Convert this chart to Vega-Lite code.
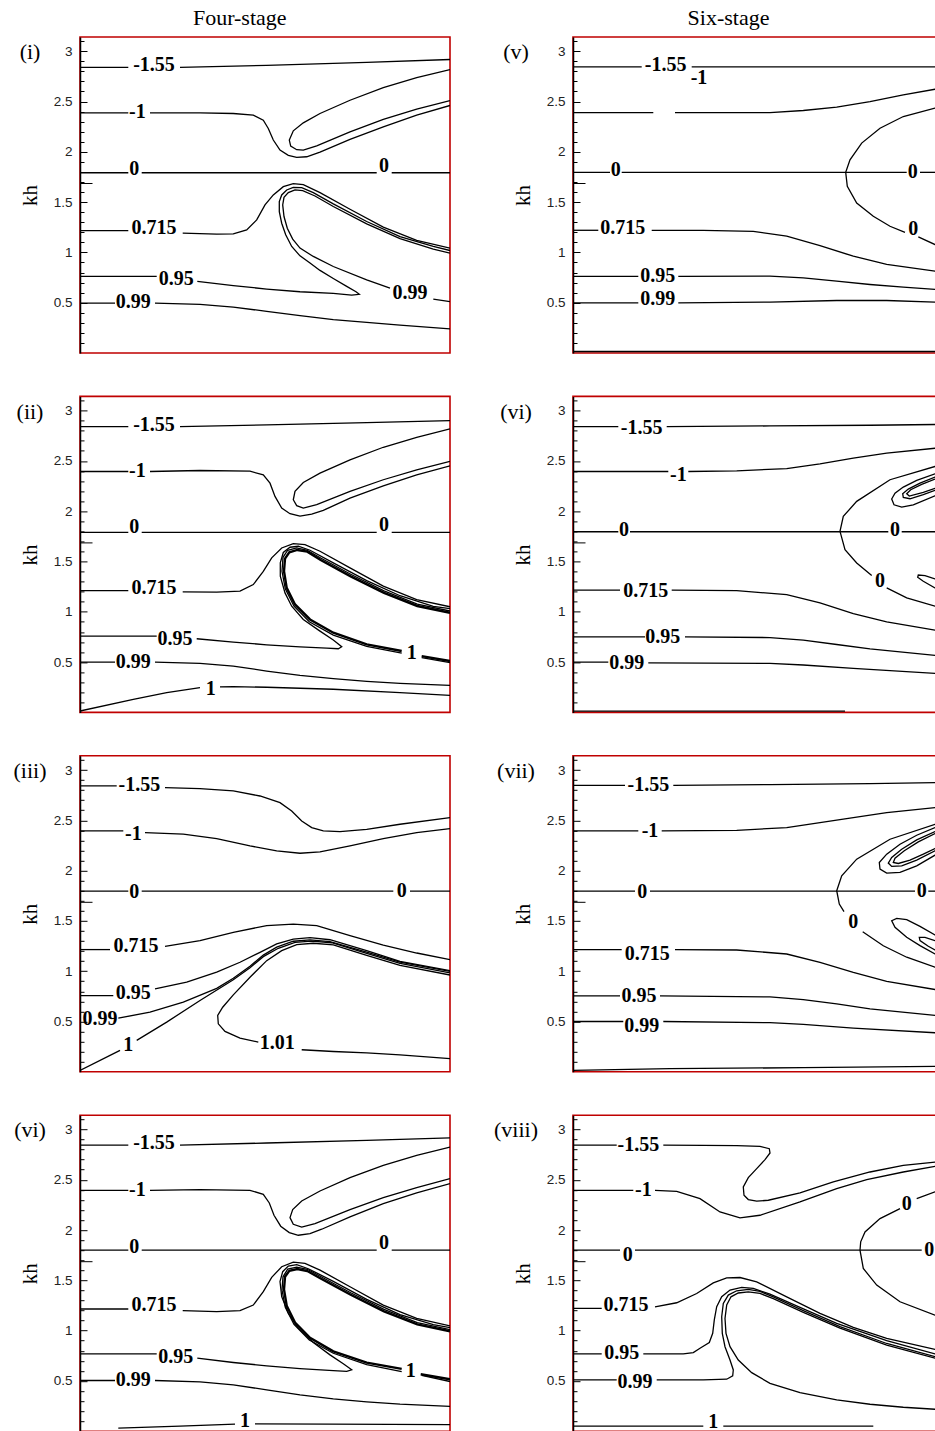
{
"$schema":"https://vega.github.io/schema/vega-lite/v6.json",
"padding":{"left":12,"top":7,"right":0,"bottom":0},
"config":{"view":{"stroke":"#c00000","strokeWidth":1.6}},
"datasets":{
"L1":[
{"s":"a1","x":0,"y":2.84},{"s":"a1","x":0.483,"y":2.84},
{"s":"a2","x":1.0,"y":2.84},{"s":"a2","x":1.867,"y":2.86},{"s":"a2","x":2.867,"y":2.89},{"s":"a2","x":3.7,"y":2.918},
{"s":"b1","x":0,"y":2.388},{"s":"b1","x":0.483,"y":2.388},
{"s":"b2","x":0.7,"y":2.388},{"s":"b2","x":1.2,"y":2.388},{"s":"b2","x":1.533,"y":2.381},{"s":"b2","x":1.733,"y":2.364},{"s":"b2","x":1.833,"y":2.315},{"s":"b2","x":1.883,"y":2.232},{"s":"b2","x":1.933,"y":2.117},{"s":"b2","x":2.0,"y":2.018},{"s":"b2","x":2.083,"y":1.965},{"s":"b2","x":2.167,"y":1.945},{"s":"b2","x":2.267,"y":1.951},{"s":"b2","x":2.4,"y":1.998},{"s":"b2","x":2.7,"y":2.124},{"s":"b2","x":3.033,"y":2.249},{"s":"b2","x":3.367,"y":2.365},{"s":"b2","x":3.7,"y":2.461},
{"s":"c","x":3.7,"y":2.817},{"s":"c","x":3.367,"y":2.738},{"s":"c","x":3.033,"y":2.639},{"s":"c","x":2.7,"y":2.513},{"s":"c","x":2.4,"y":2.381},{"s":"c","x":2.233,"y":2.288},{"s":"c","x":2.133,"y":2.209},{"s":"c","x":2.093,"y":2.117},{"s":"c","x":2.107,"y":2.057},{"s":"c","x":2.167,"y":2.021},{"s":"c","x":2.233,"y":2.017},{"s":"c","x":2.367,"y":2.06},{"s":"c","x":2.7,"y":2.199},{"s":"c","x":3.033,"y":2.322},{"s":"c","x":3.367,"y":2.424},{"s":"c","x":3.7,"y":2.51},
{"s":"d1","x":0,"y":1.792},{"s":"d1","x":0.483,"y":1.792},
{"s":"d2","x":0.617,"y":1.792},{"s":"d2","x":2.967,"y":1.792},
{"s":"d3","x":3.117,"y":1.792},{"s":"d3","x":3.7,"y":1.792},
{"s":"e1","x":0,"y":1.217},{"s":"e1","x":0.483,"y":1.217},
{"s":"e2","x":1.027,"y":1.191},{"s":"e2","x":1.367,"y":1.181},{"s":"e2","x":1.533,"y":1.184},{"s":"e2","x":1.667,"y":1.224},{"s":"e2","x":1.767,"y":1.323},{"s":"e2","x":1.85,"y":1.472},{"s":"e2","x":1.933,"y":1.572},{"s":"e2","x":2.033,"y":1.654},{"s":"e2","x":2.133,"y":1.684},{"s":"e2","x":2.233,"y":1.674},{"s":"e2","x":2.4,"y":1.595},{"s":"e2","x":2.7,"y":1.429},{"s":"e2","x":3.033,"y":1.251},{"s":"e2","x":3.367,"y":1.119},{"s":"e2","x":3.7,"y":1.043},
{"s":"f1","x":0,"y":0.761},{"s":"f1","x":0.767,"y":0.761},
{"s":"f2","x":1.173,"y":0.712},{"s":"f2","x":1.533,"y":0.669},{"s":"f2","x":1.867,"y":0.636},{"s":"f2","x":2.2,"y":0.609},{"s":"f2","x":2.533,"y":0.593},{"s":"f2","x":2.717,"y":0.576},{"s":"f2","x":2.793,"y":0.583},{"s":"f2","x":2.76,"y":0.609},{"s":"f2","x":2.667,"y":0.662},{"s":"f2","x":2.533,"y":0.741},{"s":"f2","x":2.4,"y":0.821},{"s":"f2","x":2.3,"y":0.894},{"s":"f2","x":2.2,"y":0.966},{"s":"f2","x":2.117,"y":1.059},{"s":"f2","x":2.057,"y":1.175},{"s":"f2","x":2.017,"y":1.29},{"s":"f2","x":1.993,"y":1.406},{"s":"f2","x":1.993,"y":1.505},{"s":"f2","x":2.017,"y":1.571},{"s":"f2","x":2.067,"y":1.621},{"s":"f2","x":2.133,"y":1.647},{"s":"f2","x":2.217,"y":1.644},{"s":"f2","x":2.333,"y":1.594},{"s":"f2","x":2.533,"y":1.482},{"s":"f2","x":2.867,"y":1.307},{"s":"f2","x":3.2,"y":1.158},{"s":"f2","x":3.533,"y":1.059},{"s":"f2","x":3.7,"y":1.019},
{"s":"g1","x":3.7,"y":0.51},{"s":"g1","x":3.533,"y":0.536},
{"s":"g2","x":3.1,"y":0.645},{"s":"g2","x":2.867,"y":0.728},{"s":"g2","x":2.533,"y":0.86},{"s":"g2","x":2.333,"y":0.96},{"s":"g2","x":2.2,"y":1.043},{"s":"g2","x":2.127,"y":1.132},{"s":"g2","x":2.073,"y":1.241},{"s":"g2","x":2.04,"y":1.357},{"s":"g2","x":2.027,"y":1.472},{"s":"g2","x":2.04,"y":1.548},{"s":"g2","x":2.083,"y":1.594},{"s":"g2","x":2.15,"y":1.621},{"s":"g2","x":2.227,"y":1.614},{"s":"g2","x":2.35,"y":1.561},{"s":"g2","x":2.533,"y":1.456},{"s":"g2","x":2.867,"y":1.283},{"s":"g2","x":3.2,"y":1.138},{"s":"g2","x":3.533,"y":1.032},{"s":"g2","x":3.7,"y":0.993},
{"s":"h1","x":0,"y":0.496},{"s":"h1","x":0.35,"y":0.496},
{"s":"h2","x":0.75,"y":0.496},{"s":"h2","x":1.2,"y":0.483},{"s":"h2","x":1.533,"y":0.457},{"s":"h2","x":1.867,"y":0.414},{"s":"h2","x":2.2,"y":0.371},{"s":"h2","x":2.533,"y":0.331},{"s":"h2","x":2.867,"y":0.305},{"s":"h2","x":3.2,"y":0.278},{"s":"h2","x":3.7,"y":0.239}
],
"T1":[
{"t":"-1.55","x":0.74,"y":2.86},{"t":"-1","x":0.573,"y":2.4},{"t":"0","x":0.543,"y":1.83},{"t":"0","x":3.04,"y":1.86},{"t":"0.715","x":0.74,"y":1.247},{"t":"0.95","x":0.963,"y":0.731},{"t":"0.99","x":0.533,"y":0.503},{"t":"0.99","x":3.3,"y":0.596}
],
"L2":[
{"s":"a1","x":0,"y":2.842},{"s":"a1","x":0.483,"y":2.842},
{"s":"a2","x":1.0,"y":2.842},{"s":"a2","x":1.867,"y":2.858},{"s":"a2","x":2.867,"y":2.881},{"s":"a2","x":3.7,"y":2.901},
{"s":"c","x":3.7,"y":2.818},{"s":"c","x":3.367,"y":2.735},{"s":"c","x":3.033,"y":2.636},{"s":"c","x":2.7,"y":2.511},{"s":"c","x":2.4,"y":2.379},{"s":"c","x":2.233,"y":2.286},{"s":"c","x":2.15,"y":2.197},{"s":"c","x":2.133,"y":2.114},{"s":"c","x":2.167,"y":2.055},{"s":"c","x":2.233,"y":2.032},{"s":"c","x":2.367,"y":2.065},{"s":"c","x":2.7,"y":2.197},{"s":"c","x":3.033,"y":2.313},{"s":"c","x":3.367,"y":2.412},{"s":"c","x":3.7,"y":2.495},
{"s":"b1","x":0,"y":2.395},{"s":"b1","x":0.483,"y":2.395},
{"s":"b2","x":0.7,"y":2.395},{"s":"b2","x":1.2,"y":2.405},{"s":"b2","x":1.7,"y":2.398},{"s":"b2","x":1.833,"y":2.361},{"s":"b2","x":1.9,"y":2.279},{"s":"b2","x":1.95,"y":2.147},{"s":"b2","x":2.017,"y":2.031},{"s":"b2","x":2.1,"y":1.975},{"s":"b2","x":2.2,"y":1.952},{"s":"b2","x":2.317,"y":1.972},{"s":"b2","x":2.433,"y":2.008},{"s":"b2","x":2.7,"y":2.131},{"s":"b2","x":3.033,"y":2.253},{"s":"b2","x":3.367,"y":2.362},{"s":"b2","x":3.7,"y":2.452},
{"s":"d1","x":0,"y":1.789},{"s":"d1","x":0.483,"y":1.789},
{"s":"d2","x":0.617,"y":1.789},{"s":"d2","x":2.967,"y":1.789},
{"s":"d3","x":3.117,"y":1.789},{"s":"d3","x":3.7,"y":1.789},
{"s":"e1","x":0,"y":1.211},{"s":"e1","x":0.483,"y":1.211},
{"s":"e2","x":1.027,"y":1.198},{"s":"e2","x":1.367,"y":1.195},{"s":"e2","x":1.6,"y":1.205},{"s":"e2","x":1.733,"y":1.271},{"s":"e2","x":1.833,"y":1.403},{"s":"e2","x":1.917,"y":1.536},{"s":"e2","x":2.017,"y":1.635},{"s":"e2","x":2.133,"y":1.678},{"s":"e2","x":2.25,"y":1.668},{"s":"e2","x":2.4,"y":1.602},{"s":"e2","x":2.7,"y":1.437},{"s":"e2","x":3.033,"y":1.255},{"s":"e2","x":3.367,"y":1.122},{"s":"e2","x":3.7,"y":1.05},
{"s":"f1","x":0,"y":0.758},{"s":"f1","x":0.767,"y":0.758},
{"s":"f2","x":1.167,"y":0.732},{"s":"f2","x":1.533,"y":0.699},{"s":"f2","x":1.867,"y":0.672},{"s":"f2","x":2.2,"y":0.652},{"s":"f2","x":2.467,"y":0.639},{"s":"f2","x":2.583,"y":0.633},{"s":"f2","x":2.617,"y":0.653},{"s":"f2","x":2.533,"y":0.719},{"s":"f2","x":2.4,"y":0.808},{"s":"f2","x":2.233,"y":0.924},{"s":"f2","x":2.117,"y":1.056},{"s":"f2","x":2.05,"y":1.188},{"s":"f2","x":2.003,"y":1.354},{"s":"f2","x":2.003,"y":1.486},{"s":"f2","x":2.033,"y":1.59},{"s":"f2","x":2.1,"y":1.642},{"s":"f2","x":2.183,"y":1.652},{"s":"f2","x":2.3,"y":1.612},{"s":"f2","x":2.533,"y":1.487},{"s":"f2","x":2.867,"y":1.31},{"s":"f2","x":3.2,"y":1.16},{"s":"f2","x":3.533,"y":1.055},{"s":"f2","x":3.7,"y":1.032},
{"s":"g1","x":3.7,"y":0.494},{"s":"g1","x":3.417,"y":0.544},
{"s":"g2","x":3.217,"y":0.59},{"s":"g2","x":2.867,"y":0.656},{"s":"g2","x":2.533,"y":0.769},{"s":"g2","x":2.293,"y":0.901},{"s":"g2","x":2.14,"y":1.056},{"s":"g2","x":2.053,"y":1.228},{"s":"g2","x":2.02,"y":1.403},{"s":"g2","x":2.03,"y":1.542},{"s":"g2","x":2.077,"y":1.612},{"s":"g2","x":2.167,"y":1.635},{"s":"g2","x":2.273,"y":1.612},{"s":"g2","x":2.407,"y":1.535},{"s":"g2","x":2.707,"y":1.373},{"s":"g2","x":3.04,"y":1.208},{"s":"g2","x":3.373,"y":1.076},{"s":"g2","x":3.7,"y":1.008},
{"s":"h1","x":0,"y":0.5},{"s":"h1","x":0.35,"y":0.5},
{"s":"h2","x":0.75,"y":0.5},{"s":"h2","x":1.2,"y":0.487},{"s":"h2","x":1.533,"y":0.461},{"s":"h2","x":1.867,"y":0.411},{"s":"h2","x":2.2,"y":0.368},{"s":"h2","x":2.533,"y":0.335},{"s":"h2","x":2.867,"y":0.309},{"s":"h2","x":3.2,"y":0.289},{"s":"h2","x":3.7,"y":0.269},
{"s":"i1","x":0,"y":0.014},{"s":"i1","x":0.533,"y":0.13},{"s":"i1","x":0.867,"y":0.196},{"s":"i1","x":1.2,"y":0.246},
{"s":"i2","x":1.4,"y":0.253},{"s":"i2","x":1.533,"y":0.256},{"s":"i2","x":1.867,"y":0.25},{"s":"i2","x":2.533,"y":0.23},{"s":"i2","x":3.2,"y":0.196},{"s":"i2","x":3.7,"y":0.17}
],
"K2":[
{"s":"t1","x":3.7,"y":0.511},{"s":"t1","x":3.417,"y":0.56},
{"s":"t2","x":3.217,"y":0.61},{"s":"t2","x":2.867,"y":0.676},{"s":"t2","x":2.533,"y":0.792},{"s":"t2","x":2.3,"y":0.924},{"s":"t2","x":2.15,"y":1.073},{"s":"t2","x":2.067,"y":1.238},{"s":"t2","x":2.04,"y":1.403},{"s":"t2","x":2.05,"y":1.529},{"s":"t2","x":2.093,"y":1.592},{"s":"t2","x":2.173,"y":1.615},{"s":"t2","x":2.273,"y":1.598},{"s":"t2","x":2.407,"y":1.515},{"s":"t2","x":2.707,"y":1.352},{"s":"t2","x":3.04,"y":1.188},{"s":"t2","x":3.373,"y":1.058},{"s":"t2","x":3.7,"y":0.99}
],
"T2":[
{"t":"-1.55","x":0.74,"y":2.858},{"t":"-1","x":0.573,"y":2.402},{"t":"0","x":0.543,"y":1.84},{"t":"0","x":3.04,"y":1.866},{"t":"0.715","x":0.74,"y":1.238},{"t":"0.95","x":0.95,"y":0.732},{"t":"0.99","x":0.533,"y":0.5},{"t":"1","x":3.317,"y":0.593},{"t":"1","x":1.307,"y":0.23}
],
"L3":[
{"s":"a1","x":0,"y":2.842},{"s":"a1","x":0.367,"y":2.842},
{"s":"a2","x":0.85,"y":2.825},{"s":"a2","x":1.2,"y":2.815},{"s":"a2","x":1.533,"y":2.792},{"s":"a2","x":1.8,"y":2.742},{"s":"a2","x":2.0,"y":2.676},{"s":"a2","x":2.117,"y":2.593},{"s":"a2","x":2.217,"y":2.494},{"s":"a2","x":2.317,"y":2.428},{"s":"a2","x":2.433,"y":2.395},{"s":"a2","x":2.6,"y":2.388},{"s":"a2","x":2.867,"y":2.411},{"s":"a2","x":3.2,"y":2.461},{"s":"a2","x":3.7,"y":2.527},
{"s":"b1","x":0,"y":2.395},{"s":"b1","x":0.433,"y":2.395},
{"s":"b2","x":0.65,"y":2.378},{"s":"b2","x":1.033,"y":2.362},{"s":"b2","x":1.367,"y":2.318},{"s":"b2","x":1.7,"y":2.246},{"s":"b2","x":1.967,"y":2.196},{"s":"b2","x":2.2,"y":2.173},{"s":"b2","x":2.4,"y":2.186},{"s":"b2","x":2.7,"y":2.246},{"s":"b2","x":3.033,"y":2.318},{"s":"b2","x":3.367,"y":2.378},{"s":"b2","x":3.7,"y":2.418},
{"s":"d1","x":0,"y":1.796},{"s":"d1","x":0.483,"y":1.796},
{"s":"d2","x":0.617,"y":1.796},{"s":"d2","x":3.133,"y":1.796},
{"s":"d3","x":3.3,"y":1.796},{"s":"d3","x":3.7,"y":1.796},
{"s":"e1","x":0,"y":1.215},{"s":"e1","x":0.3,"y":1.215},
{"s":"e2","x":0.85,"y":1.248},{"s":"e2","x":1.2,"y":1.304},{"s":"e2","x":1.533,"y":1.387},{"s":"e2","x":1.867,"y":1.453},{"s":"e2","x":2.133,"y":1.469},{"s":"e2","x":2.367,"y":1.453},{"s":"e2","x":2.7,"y":1.354},{"s":"e2","x":3.033,"y":1.26},{"s":"e2","x":3.367,"y":1.181},{"s":"e2","x":3.7,"y":1.115},
{"s":"f1","x":0,"y":0.758},{"s":"f1","x":0.333,"y":0.758},
{"s":"f2","x":0.75,"y":0.824},{"s":"f2","x":1.067,"y":0.891},{"s":"f2","x":1.367,"y":0.99},{"s":"f2","x":1.6,"y":1.089},{"s":"f2","x":1.8,"y":1.188},{"s":"f2","x":1.967,"y":1.271},{"s":"f2","x":2.133,"y":1.32},{"s":"f2","x":2.3,"y":1.333},{"s":"f2","x":2.5,"y":1.313},{"s":"f2","x":2.867,"y":1.204},{"s":"f2","x":3.2,"y":1.098},{"s":"f2","x":3.7,"y":1.006},
{"s":"g2","x":0.383,"y":0.533},{"s":"g2","x":0.7,"y":0.593},{"s":"g2","x":1.033,"y":0.692},{"s":"g2","x":1.367,"y":0.83},{"s":"g2","x":1.533,"y":0.93},{"s":"g2","x":1.7,"y":1.05},{"s":"g2","x":1.833,"y":1.16},{"s":"g2","x":1.967,"y":1.24},{"s":"g2","x":2.133,"y":1.298},{"s":"g2","x":2.3,"y":1.312},{"s":"g2","x":2.5,"y":1.295},{"s":"g2","x":2.867,"y":1.19},{"s":"g2","x":3.2,"y":1.091},{"s":"g2","x":3.7,"y":0.998},
{"s":"i1","x":0,"y":0.014},{"s":"i1","x":0.4,"y":0.213},
{"s":"i2","x":0.567,"y":0.312},{"s":"i2","x":0.867,"y":0.494},{"s":"i2","x":1.2,"y":0.709},{"s":"i2","x":1.533,"y":0.915},{"s":"i2","x":1.7,"y":1.035},{"s":"i2","x":1.833,"y":1.145},{"s":"i2","x":1.983,"y":1.228},{"s":"i2","x":2.15,"y":1.287},{"s":"i2","x":2.317,"y":1.3},{"s":"i2","x":2.517,"y":1.283},{"s":"i2","x":2.867,"y":1.178},{"s":"i2","x":3.2,"y":1.079},{"s":"i2","x":3.7,"y":0.983},
{"s":"j1","x":3.7,"y":0.13},{"s":"j1","x":3.2,"y":0.169},{"s":"j1","x":2.867,"y":0.189},{"s":"j1","x":2.533,"y":0.202},{"s":"j1","x":2.217,"y":0.219},
{"s":"j2","x":1.783,"y":0.295},{"s":"j2","x":1.6,"y":0.335},{"s":"j2","x":1.45,"y":0.401},{"s":"j2","x":1.383,"y":0.477},{"s":"j2","x":1.377,"y":0.56},{"s":"j2","x":1.427,"y":0.642},{"s":"j2","x":1.533,"y":0.765},{"s":"j2","x":1.7,"y":0.94},{"s":"j2","x":1.867,"y":1.105},{"s":"j2","x":2.017,"y":1.205},{"s":"j2","x":2.167,"y":1.265},{"s":"j2","x":2.333,"y":1.278},{"s":"j2","x":2.533,"y":1.262},{"s":"j2","x":2.867,"y":1.158},{"s":"j2","x":3.2,"y":1.058},{"s":"j2","x":3.7,"y":0.962}
],
"T3":[
{"t":"-1.55","x":0.593,"y":2.848},{"t":"-1","x":0.533,"y":2.362},{"t":"0","x":0.543,"y":1.79},{"t":"0","x":3.217,"y":1.797},{"t":"0.715","x":0.56,"y":1.254},{"t":"0.95","x":0.533,"y":0.784},{"t":"0.99","x":0.2,"y":0.52},{"t":"1","x":0.483,"y":0.27},{"t":"1.01","x":1.973,"y":0.285}
],
"L4":[
{"s":"a1","x":0,"y":2.845},{"s":"a1","x":0.483,"y":2.845},
{"s":"a2","x":1.0,"y":2.845},{"s":"a2","x":1.867,"y":2.865},{"s":"a2","x":2.867,"y":2.891},{"s":"a2","x":3.7,"y":2.917},
{"s":"c","x":3.7,"y":2.825},{"s":"c","x":3.367,"y":2.742},{"s":"c","x":3.033,"y":2.643},{"s":"c","x":2.7,"y":2.52},{"s":"c","x":2.4,"y":2.388},{"s":"c","x":2.217,"y":2.289},{"s":"c","x":2.127,"y":2.203},{"s":"c","x":2.1,"y":2.123},{"s":"c","x":2.133,"y":2.057},{"s":"c","x":2.217,"y":2.03},{"s":"c","x":2.35,"y":2.064},{"s":"c","x":2.7,"y":2.203},{"s":"c","x":3.033,"y":2.322},{"s":"c","x":3.367,"y":2.421},{"s":"c","x":3.7,"y":2.511},
{"s":"b1","x":0,"y":2.395},{"s":"b1","x":0.483,"y":2.395},
{"s":"b2","x":0.7,"y":2.395},{"s":"b2","x":1.2,"y":2.402},{"s":"b2","x":1.7,"y":2.395},{"s":"b2","x":1.833,"y":2.355},{"s":"b2","x":1.893,"y":2.269},{"s":"b2","x":1.94,"y":2.147},{"s":"b2","x":2.007,"y":2.038},{"s":"b2","x":2.093,"y":1.975},{"s":"b2","x":2.183,"y":1.948},{"s":"b2","x":2.3,"y":1.965},{"s":"b2","x":2.417,"y":2.008},{"s":"b2","x":2.7,"y":2.13},{"s":"b2","x":3.033,"y":2.263},{"s":"b2","x":3.367,"y":2.369},{"s":"b2","x":3.7,"y":2.461},
{"s":"d1","x":0,"y":1.8},{"s":"d1","x":0.483,"y":1.8},
{"s":"d2","x":0.617,"y":1.8},{"s":"d2","x":2.967,"y":1.8},
{"s":"d3","x":3.117,"y":1.8},{"s":"d3","x":3.7,"y":1.8},
{"s":"e1","x":0,"y":1.215},{"s":"e1","x":0.483,"y":1.215},
{"s":"e2","x":1.027,"y":1.198},{"s":"e2","x":1.367,"y":1.188},{"s":"e2","x":1.6,"y":1.198},{"s":"e2","x":1.733,"y":1.254},{"s":"e2","x":1.833,"y":1.387},{"s":"e2","x":1.917,"y":1.529},{"s":"e2","x":2.017,"y":1.635},{"s":"e2","x":2.133,"y":1.681},{"s":"e2","x":2.25,"y":1.668},{"s":"e2","x":2.4,"y":1.602},{"s":"e2","x":2.7,"y":1.436},{"s":"e2","x":3.033,"y":1.254},{"s":"e2","x":3.367,"y":1.122},{"s":"e2","x":3.7,"y":1.046},
{"s":"f1","x":0,"y":0.768},{"s":"f1","x":0.767,"y":0.768},
{"s":"f2","x":1.173,"y":0.726},{"s":"f2","x":1.533,"y":0.683},{"s":"f2","x":1.867,"y":0.65},{"s":"f2","x":2.2,"y":0.623},{"s":"f2","x":2.533,"y":0.603},{"s":"f2","x":2.667,"y":0.594},{"s":"f2","x":2.717,"y":0.61},{"s":"f2","x":2.633,"y":0.67},{"s":"f2","x":2.5,"y":0.759},{"s":"f2","x":2.333,"y":0.881},{"s":"f2","x":2.183,"y":1.024},{"s":"f2","x":2.083,"y":1.172},{"s":"f2","x":2.017,"y":1.338},{"s":"f2","x":2.0,"y":1.487},{"s":"f2","x":2.027,"y":1.586},{"s":"f2","x":2.083,"y":1.642},{"s":"f2","x":2.167,"y":1.655},{"s":"f2","x":2.283,"y":1.615},{"s":"f2","x":2.533,"y":1.49},{"s":"f2","x":2.867,"y":1.31},{"s":"f2","x":3.2,"y":1.16},{"s":"f2","x":3.533,"y":1.06},{"s":"f2","x":3.7,"y":1.03},
{"s":"g1","x":3.7,"y":0.494},{"s":"g1","x":3.417,"y":0.554},
{"s":"g2","x":3.217,"y":0.593},{"s":"g2","x":2.867,"y":0.662},{"s":"g2","x":2.533,"y":0.775},{"s":"g2","x":2.293,"y":0.907},{"s":"g2","x":2.14,"y":1.063},{"s":"g2","x":2.053,"y":1.231},{"s":"g2","x":2.02,"y":1.403},{"s":"g2","x":2.03,"y":1.535},{"s":"g2","x":2.077,"y":1.611},{"s":"g2","x":2.167,"y":1.632},{"s":"g2","x":2.273,"y":1.61},{"s":"g2","x":2.407,"y":1.538},{"s":"g2","x":2.707,"y":1.376},{"s":"g2","x":3.04,"y":1.212},{"s":"g2","x":3.373,"y":1.08},{"s":"g2","x":3.7,"y":1.01},
{"s":"h1","x":0,"y":0.504},{"s":"h1","x":0.35,"y":0.504},
{"s":"h2","x":0.75,"y":0.504},{"s":"h2","x":1.2,"y":0.491},{"s":"h2","x":1.533,"y":0.461},{"s":"h2","x":1.867,"y":0.411},{"s":"h2","x":2.2,"y":0.362},{"s":"h2","x":2.533,"y":0.322},{"s":"h2","x":2.867,"y":0.292},{"s":"h2","x":3.2,"y":0.269},{"s":"h2","x":3.7,"y":0.246},
{"s":"i1","x":0.383,"y":0.03},{"s":"i1","x":1.0,"y":0.05},{"s":"i1","x":1.55,"y":0.07},
{"s":"i2","x":1.75,"y":0.072},{"s":"i2","x":2.5,"y":0.07},{"s":"i2","x":3.7,"y":0.066}
],
"K4":[
{"s":"t1","x":3.7,"y":0.516},{"s":"t1","x":3.407,"y":0.566},
{"s":"t2","x":3.217,"y":0.619},{"s":"t2","x":2.867,"y":0.682},{"s":"t2","x":2.533,"y":0.794},{"s":"t2","x":2.3,"y":0.929},{"s":"t2","x":2.15,"y":1.081},{"s":"t2","x":2.067,"y":1.247},{"s":"t2","x":2.04,"y":1.409},{"s":"t2","x":2.05,"y":1.535},{"s":"t2","x":2.093,"y":1.594},{"s":"t2","x":2.173,"y":1.612},{"s":"t2","x":2.273,"y":1.592},{"s":"t2","x":2.407,"y":1.518},{"s":"t2","x":2.707,"y":1.356},{"s":"t2","x":3.04,"y":1.192},{"s":"t2","x":3.373,"y":1.062},{"s":"t2","x":3.7,"y":0.993}
],
"T4":[
{"t":"-1.55","x":0.74,"y":2.868},{"t":"-1","x":0.573,"y":2.402},{"t":"0","x":0.543,"y":1.833},{"t":"0","x":3.04,"y":1.873},{"t":"0.715","x":0.74,"y":1.255},{"t":"0.95","x":0.957,"y":0.735},{"t":"0.99","x":0.533,"y":0.51},{"t":"1","x":3.307,"y":0.6},{"t":"1","x":1.65,"y":0.1}
],
"L5":[
{"s":"a1","x":0,"y":2.844},{"s":"a1","x":0.687,"y":2.844},
{"s":"a2","x":1.187,"y":2.844},{"s":"a2","x":3.7,"y":2.844},
{"s":"b1","x":0,"y":2.39},{"s":"b1","x":0.803,"y":2.39},
{"s":"b2","x":1.02,"y":2.39},{"s":"b2","x":1.97,"y":2.39},{"s":"b2","x":2.303,"y":2.411},{"s":"b2","x":2.637,"y":2.444},{"s":"b2","x":2.97,"y":2.5},{"s":"b2","x":3.303,"y":2.566},{"s":"b2","x":3.62,"y":2.622},{"s":"b2","x":3.7,"y":2.635},
{"s":"z1","x":3.7,"y":2.455},{"s":"z1","x":3.62,"y":2.434},{"s":"z1","x":3.303,"y":2.351},{"s":"z1","x":3.07,"y":2.235},{"s":"z1","x":2.887,"y":2.087},{"s":"z1","x":2.77,"y":1.921},{"s":"z1","x":2.727,"y":1.796},{"s":"z1","x":2.743,"y":1.657},{"s":"z1","x":2.837,"y":1.491},{"s":"z1","x":3.003,"y":1.359},{"s":"z1","x":3.17,"y":1.26},{"s":"z1","x":3.32,"y":1.2},
{"s":"z2","x":3.453,"y":1.154},{"s":"z2","x":3.62,"y":1.078},{"s":"z2","x":3.7,"y":1.055},
{"s":"d1","x":0,"y":1.796},{"s":"d1","x":0.37,"y":1.796},
{"s":"d2","x":0.487,"y":1.796},{"s":"d2","x":3.337,"y":1.796},
{"s":"d3","x":3.47,"y":1.796},{"s":"d3","x":3.7,"y":1.796},
{"s":"e1","x":0,"y":1.22},{"s":"e1","x":0.253,"y":1.22},
{"s":"e2","x":0.787,"y":1.22},{"s":"e2","x":1.303,"y":1.22},{"s":"e2","x":1.803,"y":1.21},{"s":"e2","x":2.137,"y":1.161},{"s":"e2","x":2.47,"y":1.068},{"s":"e2","x":2.803,"y":0.962},{"s":"e2","x":3.137,"y":0.88},{"s":"e2","x":3.62,"y":0.813},{"s":"e2","x":3.7,"y":0.8},
{"s":"f1","x":0,"y":0.761},{"s":"f1","x":0.653,"y":0.761},
{"s":"f2","x":1.053,"y":0.761},{"s":"f2","x":1.97,"y":0.764},{"s":"f2","x":2.303,"y":0.747},{"s":"f2","x":2.637,"y":0.714},{"s":"f2","x":2.97,"y":0.681},{"s":"f2","x":3.303,"y":0.655},{"s":"f2","x":3.62,"y":0.632},{"s":"f2","x":3.7,"y":0.626},
{"s":"h1","x":0,"y":0.499},{"s":"h1","x":0.653,"y":0.499},
{"s":"h2","x":1.053,"y":0.499},{"s":"h2","x":1.97,"y":0.506},{"s":"h2","x":2.637,"y":0.522},{"s":"h2","x":3.137,"y":0.522},{"s":"h2","x":3.62,"y":0.506},{"s":"h2","x":3.7,"y":0.503},
{"s":"k","x":0,"y":0.015},{"s":"k","x":3.7,"y":0.015}
],
"T5":[
{"t":"-1.55","x":0.927,"y":2.864},{"t":"-1","x":1.26,"y":2.731},{"t":"0","x":3.403,"y":1.235},{"t":"0","x":0.427,"y":1.822},{"t":"0","x":3.397,"y":1.796},{"t":"0.715","x":0.497,"y":1.243},{"t":"0.95","x":0.847,"y":0.764},{"t":"0.99","x":0.847,"y":0.532}
],
"L6":[
{"s":"a1","x":0,"y":2.842},{"s":"a1","x":0.453,"y":2.842},
{"s":"a2","x":0.937,"y":2.842},{"s":"a2","x":1.97,"y":2.848},{"s":"a2","x":2.97,"y":2.855},{"s":"a2","x":3.62,"y":2.862},{"s":"a2","x":3.7,"y":2.863},
{"s":"b1","x":0,"y":2.395},{"s":"b1","x":0.953,"y":2.395},
{"s":"b2","x":1.153,"y":2.395},{"s":"b2","x":1.637,"y":2.401},{"s":"b2","x":2.137,"y":2.424},{"s":"b2","x":2.47,"y":2.471},{"s":"b2","x":2.803,"y":2.527},{"s":"b2","x":3.137,"y":2.577},{"s":"b2","x":3.62,"y":2.626},{"s":"b2","x":3.7,"y":2.635},
{"s":"z1","x":3.7,"y":2.465},{"s":"z1","x":3.62,"y":2.445},{"s":"z1","x":3.17,"y":2.313},{"s":"z1","x":2.837,"y":2.098},{"s":"z1","x":2.703,"y":1.949},{"s":"z1","x":2.67,"y":1.8},{"s":"z1","x":2.72,"y":1.618},{"s":"z1","x":2.837,"y":1.486},{"s":"z1","x":2.987,"y":1.36},
{"s":"z2","x":3.137,"y":1.238},{"s":"z2","x":3.337,"y":1.139},{"s":"z2","x":3.62,"y":1.056},{"s":"z2","x":3.7,"y":1.035},
{"s":"d1","x":0,"y":1.796},{"s":"d1","x":0.453,"y":1.796},
{"s":"d2","x":0.57,"y":1.796},{"s":"d2","x":3.153,"y":1.796},
{"s":"d3","x":3.287,"y":1.796},{"s":"d3","x":3.7,"y":1.796},
{"s":"u1","x":3.7,"y":2.395},{"s":"u1","x":3.62,"y":2.372},{"s":"u1","x":3.437,"y":2.306},{"s":"u1","x":3.303,"y":2.24},{"s":"u1","x":3.22,"y":2.18},{"s":"u1","x":3.187,"y":2.121},{"s":"u1","x":3.21,"y":2.064},{"s":"u1","x":3.287,"y":2.041},{"s":"u1","x":3.403,"y":2.064},{"s":"u1","x":3.62,"y":2.154},{"s":"u1","x":3.7,"y":2.186},
{"s":"u2","x":3.7,"y":2.362},{"s":"u2","x":3.62,"y":2.339},{"s":"u2","x":3.47,"y":2.28},{"s":"u2","x":3.353,"y":2.22},{"s":"u2","x":3.297,"y":2.174},{"s":"u2","x":3.303,"y":2.138},{"s":"u2","x":3.37,"y":2.124},{"s":"u2","x":3.503,"y":2.164},{"s":"u2","x":3.62,"y":2.207},{"s":"u2","x":3.7,"y":2.237},
{"s":"u3","x":3.7,"y":2.339},{"s":"u3","x":3.62,"y":2.319},{"s":"u3","x":3.487,"y":2.267},{"s":"u3","x":3.377,"y":2.214},{"s":"u3","x":3.337,"y":2.174},{"s":"u3","x":3.363,"y":2.151},{"s":"u3","x":3.503,"y":2.187},{"s":"u3","x":3.62,"y":2.227},{"s":"u3","x":3.7,"y":2.253},
{"s":"l1","x":3.7,"y":1.304},{"s":"l1","x":3.62,"y":1.327},{"s":"l1","x":3.52,"y":1.36},{"s":"l1","x":3.453,"y":1.366},{"s":"l1","x":3.447,"y":1.343},{"s":"l1","x":3.503,"y":1.304},{"s":"l1","x":3.62,"y":1.238},{"s":"l1","x":3.7,"y":1.205},
{"s":"e1","x":0,"y":1.215},{"s":"e1","x":0.47,"y":1.215},
{"s":"e2","x":0.987,"y":1.215},{"s":"e2","x":1.637,"y":1.211},{"s":"e2","x":2.137,"y":1.171},{"s":"e2","x":2.47,"y":1.089},{"s":"e2","x":2.803,"y":0.983},{"s":"e2","x":3.137,"y":0.9},{"s":"e2","x":3.62,"y":0.818},{"s":"e2","x":3.7,"y":0.805},
{"s":"f1","x":0,"y":0.751},{"s":"f1","x":0.72,"y":0.751},
{"s":"f2","x":1.12,"y":0.751},{"s":"f2","x":1.97,"y":0.744},{"s":"f2","x":2.303,"y":0.718},{"s":"f2","x":2.637,"y":0.675},{"s":"f2","x":2.97,"y":0.632},{"s":"f2","x":3.62,"y":0.566},{"s":"f2","x":3.7,"y":0.56},
{"s":"h1","x":0,"y":0.5},{"s":"h1","x":0.353,"y":0.5},
{"s":"h2","x":0.753,"y":0.493},{"s":"h2","x":1.97,"y":0.488},{"s":"h2","x":2.303,"y":0.471},{"s":"h2","x":2.803,"y":0.438},{"s":"h2","x":3.62,"y":0.388},{"s":"h2","x":3.7,"y":0.383},
{"s":"k","x":0,"y":0.012},{"s":"k","x":2.72,"y":0.012}
],
"T6":[
{"t":"-1.55","x":0.687,"y":2.826},{"t":"-1","x":1.053,"y":2.362},{"t":"0","x":0.51,"y":1.816},{"t":"0","x":3.22,"y":1.816},{"t":"0","x":3.07,"y":1.304},{"t":"0.715","x":0.727,"y":1.205},{"t":"0.95","x":0.897,"y":0.751},{"t":"0.99","x":0.537,"y":0.493}
],
"L7":[
{"s":"a1","x":0,"y":2.848},{"s":"a1","x":0.52,"y":2.848},
{"s":"a2","x":1.003,"y":2.848},{"s":"a2","x":1.97,"y":2.855},{"s":"a2","x":2.97,"y":2.865},{"s":"a2","x":3.62,"y":2.875},{"s":"a2","x":3.7,"y":2.877},
{"s":"b1","x":0,"y":2.395},{"s":"b1","x":0.653,"y":2.395},
{"s":"b2","x":0.887,"y":2.395},{"s":"b2","x":1.637,"y":2.401},{"s":"b2","x":2.137,"y":2.428},{"s":"b2","x":2.47,"y":2.478},{"s":"b2","x":2.803,"y":2.527},{"s":"b2","x":3.137,"y":2.577},{"s":"b2","x":3.62,"y":2.626},{"s":"b2","x":3.7,"y":2.635},
{"s":"z1","x":3.7,"y":2.484},{"s":"z1","x":3.62,"y":2.461},{"s":"z1","x":3.17,"y":2.312},{"s":"z1","x":2.837,"y":2.114},{"s":"z1","x":2.687,"y":1.949},{"s":"z1","x":2.637,"y":1.8},{"s":"z1","x":2.663,"y":1.668},{"s":"z1","x":2.71,"y":1.592},
{"s":"z2","x":2.897,"y":1.392},{"s":"z2","x":3.103,"y":1.253},{"s":"z2","x":3.337,"y":1.139},{"s":"z2","x":3.62,"y":1.04},{"s":"z2","x":3.7,"y":1.013},
{"s":"d1","x":0,"y":1.796},{"s":"d1","x":0.62,"y":1.796},
{"s":"d2","x":0.77,"y":1.796},{"s":"d2","x":3.42,"y":1.796},
{"s":"d3","x":3.553,"y":1.796},{"s":"d3","x":3.7,"y":1.796},
{"s":"u1","x":3.7,"y":2.451},{"s":"u1","x":3.62,"y":2.428},{"s":"u1","x":3.437,"y":2.352},{"s":"u1","x":3.27,"y":2.263},{"s":"u1","x":3.137,"y":2.164},{"s":"u1","x":3.063,"y":2.081},{"s":"u1","x":3.07,"y":2.015},{"s":"u1","x":3.137,"y":1.975},{"s":"u1","x":3.27,"y":1.982},{"s":"u1","x":3.437,"y":2.048},{"s":"u1","x":3.62,"y":2.154},{"s":"u1","x":3.7,"y":2.197},
{"s":"u2","x":3.7,"y":2.412},{"s":"u2","x":3.62,"y":2.389},{"s":"u2","x":3.437,"y":2.306},{"s":"u2","x":3.287,"y":2.213},{"s":"u2","x":3.187,"y":2.131},{"s":"u2","x":3.153,"y":2.075},{"s":"u2","x":3.187,"y":2.042},{"s":"u2","x":3.287,"y":2.048},{"s":"u2","x":3.437,"y":2.104},{"s":"u2","x":3.62,"y":2.197},{"s":"u2","x":3.7,"y":2.236},
{"s":"u3","x":3.7,"y":2.389},{"s":"u3","x":3.62,"y":2.369},{"s":"u3","x":3.453,"y":2.286},{"s":"u3","x":3.313,"y":2.197},{"s":"u3","x":3.22,"y":2.124},{"s":"u3","x":3.203,"y":2.081},{"s":"u3","x":3.253,"y":2.071},{"s":"u3","x":3.37,"y":2.104},{"s":"u3","x":3.503,"y":2.164},{"s":"u3","x":3.62,"y":2.22},{"s":"u3","x":3.7,"y":2.256},
{"s":"l1","x":3.7,"y":1.321},{"s":"l1","x":3.62,"y":1.36},{"s":"l1","x":3.47,"y":1.446},{"s":"l1","x":3.337,"y":1.512},{"s":"l1","x":3.237,"y":1.525},{"s":"l1","x":3.187,"y":1.502},{"s":"l1","x":3.22,"y":1.436},{"s":"l1","x":3.337,"y":1.337},{"s":"l1","x":3.47,"y":1.254},{"s":"l1","x":3.62,"y":1.172},{"s":"l1","x":3.7,"y":1.139},
{"s":"l2","x":3.7,"y":1.271},{"s":"l2","x":3.62,"y":1.304},{"s":"l2","x":3.52,"y":1.337},{"s":"l2","x":3.463,"y":1.337},{"s":"l2","x":3.47,"y":1.304},{"s":"l2","x":3.553,"y":1.248},{"s":"l2","x":3.62,"y":1.211},{"s":"l2","x":3.7,"y":1.182},
{"s":"e1","x":0,"y":1.215},{"s":"e1","x":0.487,"y":1.215},
{"s":"e2","x":1.02,"y":1.215},{"s":"e2","x":1.637,"y":1.211},{"s":"e2","x":2.137,"y":1.171},{"s":"e2","x":2.47,"y":1.089},{"s":"e2","x":2.803,"y":0.989},{"s":"e2","x":3.137,"y":0.9},{"s":"e2","x":3.62,"y":0.818},{"s":"e2","x":3.7,"y":0.805},
{"s":"f1","x":0,"y":0.755},{"s":"f1","x":0.47,"y":0.755},
{"s":"f2","x":0.87,"y":0.755},{"s":"f2","x":1.97,"y":0.744},{"s":"f2","x":2.303,"y":0.718},{"s":"f2","x":2.637,"y":0.675},{"s":"f2","x":2.97,"y":0.626},{"s":"f2","x":3.62,"y":0.56},{"s":"f2","x":3.7,"y":0.553},
{"s":"h1","x":0,"y":0.5},{"s":"h1","x":0.503,"y":0.5},
{"s":"h2","x":0.903,"y":0.5},{"s":"h2","x":1.97,"y":0.488},{"s":"h2","x":2.303,"y":0.471},{"s":"h2","x":2.803,"y":0.435},{"s":"h2","x":3.62,"y":0.388},{"s":"h2","x":3.7,"y":0.383},
{"s":"k","x":0,"y":0.014},{"s":"k","x":0.97,"y":0.031},{"s":"k","x":2.3,"y":0.041},{"s":"k","x":3.62,"y":0.054},{"s":"k","x":3.7,"y":0.055}
],
"T7":[
{"t":"-1.55","x":0.753,"y":2.848},{"t":"-1","x":0.77,"y":2.395},{"t":"0","x":0.693,"y":1.79},{"t":"0","x":3.487,"y":1.8},{"t":"0","x":2.803,"y":1.492},{"t":"0.715","x":0.743,"y":1.171},{"t":"0.95","x":0.66,"y":0.751},{"t":"0.99","x":0.687,"y":0.46}
],
"L8":[
{"s":"a1","x":0,"y":2.845},{"s":"a1","x":0.437,"y":2.845},
{"s":"a2","x":0.903,"y":2.845},{"s":"a2","x":1.303,"y":2.842},{"s":"a2","x":1.637,"y":2.839},{"s":"a2","x":1.87,"y":2.832},{"s":"a2","x":1.963,"y":2.809},{"s":"a2","x":1.97,"y":2.766},{"s":"a2","x":1.92,"y":2.7},{"s":"a2","x":1.837,"y":2.611},{"s":"a2","x":1.753,"y":2.521},{"s":"a2","x":1.703,"y":2.428},{"s":"a2","x":1.71,"y":2.346},{"s":"a2","x":1.753,"y":2.303},{"s":"a2","x":1.837,"y":2.287},{"s":"a2","x":1.953,"y":2.296},{"s":"a2","x":2.27,"y":2.369},{"s":"a2","x":2.603,"y":2.478},{"s":"a2","x":2.97,"y":2.577},{"s":"a2","x":3.303,"y":2.643},{"s":"a2","x":3.62,"y":2.676},{"s":"a2","x":3.7,"y":2.683},
{"s":"b1","x":0,"y":2.395},{"s":"b1","x":0.603,"y":2.395},
{"s":"b2","x":0.82,"y":2.395},{"s":"b2","x":1.037,"y":2.385},{"s":"b2","x":1.27,"y":2.312},{"s":"b2","x":1.47,"y":2.18},{"s":"b2","x":1.67,"y":2.12},{"s":"b2","x":1.87,"y":2.147},{"s":"b2","x":2.27,"y":2.279},{"s":"b2","x":2.637,"y":2.411},{"s":"b2","x":2.937,"y":2.501},{"s":"b2","x":3.303,"y":2.577},{"s":"b2","x":3.62,"y":2.633},{"s":"b2","x":3.7,"y":2.643},
{"s":"z1","x":3.7,"y":2.402},{"s":"z1","x":3.62,"y":2.379},{"s":"z1","x":3.437,"y":2.313},
{"s":"z2","x":3.27,"y":2.213},{"s":"z2","x":3.07,"y":2.114},{"s":"z2","x":2.92,"y":1.981},{"s":"z2","x":2.877,"y":1.883},{"s":"z2","x":2.87,"y":1.8},{"s":"z2","x":2.903,"y":1.618},{"s":"z2","x":3.037,"y":1.453},{"s":"z2","x":3.27,"y":1.287},{"s":"z2","x":3.62,"y":1.154},{"s":"z2","x":3.7,"y":1.131},
{"s":"d1","x":0,"y":1.8},{"s":"d1","x":0.47,"y":1.8},
{"s":"d2","x":0.62,"y":1.8},{"s":"d2","x":3.487,"y":1.8},
{"s":"d3","x":3.62,"y":1.8},{"s":"d3","x":3.7,"y":1.8},
{"s":"e1","x":0,"y":1.221},{"s":"e1","x":0.287,"y":1.221},
{"s":"e2","x":0.82,"y":1.237},{"s":"e2","x":1.037,"y":1.277},{"s":"e2","x":1.237,"y":1.369},{"s":"e2","x":1.403,"y":1.475},{"s":"e2","x":1.537,"y":1.525},{"s":"e2","x":1.67,"y":1.528},{"s":"e2","x":1.837,"y":1.485},{"s":"e2","x":2.137,"y":1.336},{"s":"e2","x":2.47,"y":1.171},{"s":"e2","x":2.803,"y":1.032},{"s":"e2","x":3.137,"y":0.923},{"s":"e2","x":3.62,"y":0.814},{"s":"e2","x":3.7,"y":0.798},
{"s":"f1","x":0,"y":0.768},{"s":"f1","x":0.287,"y":0.768},
{"s":"f2","x":0.703,"y":0.768},{"s":"f2","x":1.103,"y":0.768},{"s":"f2","x":1.203,"y":0.781},{"s":"f2","x":1.27,"y":0.825},{"s":"f2","x":1.363,"y":0.881},{"s":"f2","x":1.397,"y":0.973},{"s":"f2","x":1.413,"y":1.106},{"s":"f2","x":1.437,"y":1.238},{"s":"f2","x":1.487,"y":1.337},{"s":"f2","x":1.57,"y":1.403},{"s":"f2","x":1.687,"y":1.429},{"s":"f2","x":1.803,"y":1.419},{"s":"f2","x":1.97,"y":1.363},{"s":"f2","x":2.27,"y":1.231},{"s":"f2","x":2.637,"y":1.072},{"s":"f2","x":3.137,"y":0.9},{"s":"f2","x":3.62,"y":0.769},{"s":"f2","x":3.7,"y":0.752},
{"s":"g1","x":0,"y":0.511},{"s":"g1","x":0.437,"y":0.511},
{"s":"g2","x":0.837,"y":0.511},{"s":"g2","x":1.303,"y":0.511},{"s":"g2","x":1.537,"y":0.517},{"s":"g2","x":1.597,"y":0.55},{"s":"g2","x":1.603,"y":0.609},{"s":"g2","x":1.57,"y":0.708},{"s":"g2","x":1.52,"y":0.84},{"s":"g2","x":1.493,"y":0.973},{"s":"g2","x":1.487,"y":1.138},{"s":"g2","x":1.503,"y":1.27},{"s":"g2","x":1.553,"y":1.353},{"s":"g2","x":1.637,"y":1.396},{"s":"g2","x":1.753,"y":1.409},{"s":"g2","x":1.87,"y":1.39},{"s":"g2","x":2.003,"y":1.335},{"s":"g2","x":2.303,"y":1.198},{"s":"g2","x":2.67,"y":1.04},{"s":"g2","x":3.137,"y":0.872},{"s":"g2","x":3.62,"y":0.742},{"s":"g2","x":3.7,"y":0.726},
{"s":"n","x":3.7,"y":0.712},{"s":"n","x":3.62,"y":0.727},{"s":"n","x":3.137,"y":0.855},{"s":"n","x":2.67,"y":1.025},{"s":"n","x":2.303,"y":1.182},{"s":"n","x":2.003,"y":1.318},{"s":"n","x":1.87,"y":1.37},{"s":"n","x":1.753,"y":1.386},{"s":"n","x":1.653,"y":1.374},{"s":"n","x":1.58,"y":1.336},{"s":"n","x":1.537,"y":1.254},{"s":"n","x":1.52,"y":1.121},{"s":"n","x":1.53,"y":0.973},{"s":"n","x":1.57,"y":0.84},{"s":"n","x":1.653,"y":0.708},{"s":"n","x":1.787,"y":0.582},{"s":"n","x":1.97,"y":0.476},{"s":"n","x":2.27,"y":0.384},{"s":"n","x":2.637,"y":0.311},{"s":"n","x":2.97,"y":0.268},{"s":"n","x":3.303,"y":0.238},{"s":"n","x":3.62,"y":0.218},{"s":"n","x":3.7,"y":0.215},
{"s":"m1","x":0,"y":0.05},{"s":"m1","x":1.303,"y":0.05},
{"s":"m2","x":1.503,"y":0.05},{"s":"m2","x":3.003,"y":0.05}
],
"T8":[
{"t":"-1.55","x":0.653,"y":2.842},{"t":"-1","x":0.703,"y":2.402},{"t":"0","x":3.337,"y":2.263},{"t":"0","x":0.547,"y":1.75},{"t":"0","x":3.563,"y":1.8},{"t":"0.715","x":0.53,"y":1.254},{"t":"0.95","x":0.487,"y":0.775},{"t":"0.99","x":0.62,"y":0.494},{"t":"1","x":1.403,"y":0.09}
]
},
"spacing":42,
"hconcat":[
{
"title":{"text":"Four-stage","font":"Liberation Serif","fontSize":22,"fontWeight":"normal","color":"black","anchor":"middle","offset":3,"dx":8},
"spacing":38.4,
"vconcat":[
{"width":370,"height":316,
"title":{"text":"(i)","anchor":"start","frame":"group","align":"center","dx":-50,"dy":30,"offset":0,"font":"Liberation Serif","fontSize":22,"fontWeight":"normal","color":"black"},
"encoding":{"x":{"field":"x","type":"quantitative","scale":{"domain":[0,3.7]},"axis":null},
"y":{"field":"y","type":"quantitative","scale":{"domain":[0,3.1416],"nice":false,"zero":false},"axis":{"title":"kh","titleFont":"Liberation Serif","titleFontSize":21,"titleFontWeight":"normal","titleColor":"black","titlePadding":13,"values":[0.1,0.2,0.3,0.4,0.5,0.6,0.7,0.8,0.9,1,1.1,1.2,1.3,1.4,1.5,1.6,1.69,1.7,1.8,1.9,2,2.1,2.2,2.3,2.4,2.5,2.6,2.7,2.8,2.9,3,3.1],"labelExpr":"abs(datum.value*2-round(datum.value*2))<0.001 ? format(datum.value,'~g') : ''","labelFont":"Liberation Sans","labelFontSize":13.5,"labelColor":"#222","labelPadding":15,"labelOverlap":false,"labelFlush":false,"labelBound":false,"tickColor":"black","tickWidth":1,"tickSize":{"condition":[{"test":"abs(datum.value-1.69)<0.001","value":-12},{"test":"abs(datum.value*2-round(datum.value*2))<0.001","value":-7}],"value":-4},"domainColor":"black","domainWidth":1.5,"grid":false}}},
"layer":[
{"data":{"name":"L1"},"mark":{"type":"line","clip":true,"color":"black","strokeWidth":1.3},"encoding":{"detail":{"field":"s","type":"nominal"},"order":{"value":null}}},
{"data":{"name":"T1"},"mark":{"type":"text","font":"Liberation Serif","fontWeight":"bold","fontSize":20,"color":"black"},"encoding":{"text":{"field":"t","type":"nominal"}}}
]},
{"width":370,"height":316,
"title":{"text":"(ii)","anchor":"start","frame":"group","align":"center","dx":-50,"dy":30,"offset":0,"font":"Liberation Serif","fontSize":22,"fontWeight":"normal","color":"black"},
"encoding":{"x":{"field":"x","type":"quantitative","scale":{"domain":[0,3.7]},"axis":null},
"y":{"field":"y","type":"quantitative","scale":{"domain":[0,3.1416],"nice":false,"zero":false},"axis":{"title":"kh","titleFont":"Liberation Serif","titleFontSize":21,"titleFontWeight":"normal","titleColor":"black","titlePadding":13,"values":[0.1,0.2,0.3,0.4,0.5,0.6,0.7,0.8,0.9,1,1.1,1.2,1.3,1.4,1.5,1.6,1.69,1.7,1.8,1.9,2,2.1,2.2,2.3,2.4,2.5,2.6,2.7,2.8,2.9,3,3.1],"labelExpr":"abs(datum.value*2-round(datum.value*2))<0.001 ? format(datum.value,'~g') : ''","labelFont":"Liberation Sans","labelFontSize":13.5,"labelColor":"#222","labelPadding":15,"labelOverlap":false,"labelFlush":false,"labelBound":false,"tickColor":"black","tickWidth":1,"tickSize":{"condition":[{"test":"abs(datum.value-1.69)<0.001","value":-12},{"test":"abs(datum.value*2-round(datum.value*2))<0.001","value":-7}],"value":-4},"domainColor":"black","domainWidth":1.5,"grid":false}}},
"layer":[
{"data":{"name":"L2"},"mark":{"type":"line","clip":true,"color":"black","strokeWidth":1.3},"encoding":{"detail":{"field":"s","type":"nominal"},"order":{"value":null}}},
{"data":{"name":"K2"},"mark":{"type":"line","clip":true,"color":"black","strokeWidth":2.4},"encoding":{"detail":{"field":"s","type":"nominal"},"order":{"value":null}}},
{"data":{"name":"T2"},"mark":{"type":"text","font":"Liberation Serif","fontWeight":"bold","fontSize":20,"color":"black"},"encoding":{"text":{"field":"t","type":"nominal"}}}
]},
{"width":370,"height":316,
"title":{"text":"(iii)","anchor":"start","frame":"group","align":"center","dx":-50,"dy":30,"offset":0,"font":"Liberation Serif","fontSize":22,"fontWeight":"normal","color":"black"},
"encoding":{"x":{"field":"x","type":"quantitative","scale":{"domain":[0,3.7]},"axis":null},
"y":{"field":"y","type":"quantitative","scale":{"domain":[0,3.1416],"nice":false,"zero":false},"axis":{"title":"kh","titleFont":"Liberation Serif","titleFontSize":21,"titleFontWeight":"normal","titleColor":"black","titlePadding":13,"values":[0.1,0.2,0.3,0.4,0.5,0.6,0.7,0.8,0.9,1,1.1,1.2,1.3,1.4,1.5,1.6,1.69,1.7,1.8,1.9,2,2.1,2.2,2.3,2.4,2.5,2.6,2.7,2.8,2.9,3,3.1],"labelExpr":"abs(datum.value*2-round(datum.value*2))<0.001 ? format(datum.value,'~g') : ''","labelFont":"Liberation Sans","labelFontSize":13.5,"labelColor":"#222","labelPadding":15,"labelOverlap":false,"labelFlush":false,"labelBound":false,"tickColor":"black","tickWidth":1,"tickSize":{"condition":[{"test":"abs(datum.value-1.69)<0.001","value":-12},{"test":"abs(datum.value*2-round(datum.value*2))<0.001","value":-7}],"value":-4},"domainColor":"black","domainWidth":1.5,"grid":false}}},
"layer":[
{"data":{"name":"L3"},"mark":{"type":"line","clip":true,"color":"black","strokeWidth":1.3},"encoding":{"detail":{"field":"s","type":"nominal"},"order":{"value":null}}},
{"data":{"name":"T3"},"mark":{"type":"text","font":"Liberation Serif","fontWeight":"bold","fontSize":20,"color":"black"},"encoding":{"text":{"field":"t","type":"nominal"}}}
]},
{"width":370,"height":316,
"title":{"text":"(vi)","anchor":"start","frame":"group","align":"center","dx":-50,"dy":30,"offset":0,"font":"Liberation Serif","fontSize":22,"fontWeight":"normal","color":"black"},
"encoding":{"x":{"field":"x","type":"quantitative","scale":{"domain":[0,3.7]},"axis":null},
"y":{"field":"y","type":"quantitative","scale":{"domain":[0,3.1416],"nice":false,"zero":false},"axis":{"title":"kh","titleFont":"Liberation Serif","titleFontSize":21,"titleFontWeight":"normal","titleColor":"black","titlePadding":13,"values":[0.1,0.2,0.3,0.4,0.5,0.6,0.7,0.8,0.9,1,1.1,1.2,1.3,1.4,1.5,1.6,1.69,1.7,1.8,1.9,2,2.1,2.2,2.3,2.4,2.5,2.6,2.7,2.8,2.9,3,3.1],"labelExpr":"abs(datum.value*2-round(datum.value*2))<0.001 ? format(datum.value,'~g') : ''","labelFont":"Liberation Sans","labelFontSize":13.5,"labelColor":"#222","labelPadding":15,"labelOverlap":false,"labelFlush":false,"labelBound":false,"tickColor":"black","tickWidth":1,"tickSize":{"condition":[{"test":"abs(datum.value-1.69)<0.001","value":-12},{"test":"abs(datum.value*2-round(datum.value*2))<0.001","value":-7}],"value":-4},"domainColor":"black","domainWidth":1.5,"grid":false}}},
"layer":[
{"data":{"name":"L4"},"mark":{"type":"line","clip":true,"color":"black","strokeWidth":1.3},"encoding":{"detail":{"field":"s","type":"nominal"},"order":{"value":null}}},
{"data":{"name":"K4"},"mark":{"type":"line","clip":true,"color":"black","strokeWidth":2.4},"encoding":{"detail":{"field":"s","type":"nominal"},"order":{"value":null}}},
{"data":{"name":"T4"},"mark":{"type":"text","font":"Liberation Serif","fontWeight":"bold","fontSize":20,"color":"black"},"encoding":{"text":{"field":"t","type":"nominal"}}}
]}
]},
{
"title":{"text":"Six-stage","font":"Liberation Serif","fontSize":22,"fontWeight":"normal","color":"black","anchor":"middle","offset":3,"dx":10},
"spacing":38.4,
"vconcat":[
{"width":370,"height":316,
"title":{"text":"(v)","anchor":"start","frame":"group","align":"center","dx":-57,"dy":30,"offset":0,"font":"Liberation Serif","fontSize":22,"fontWeight":"normal","color":"black"},
"encoding":{"x":{"field":"x","type":"quantitative","scale":{"domain":[0,3.7]},"axis":null},
"y":{"field":"y","type":"quantitative","scale":{"domain":[0,3.1416],"nice":false,"zero":false},"axis":{"title":"kh","titleFont":"Liberation Serif","titleFontSize":21,"titleFontWeight":"normal","titleColor":"black","titlePadding":13,"values":[0.1,0.2,0.3,0.4,0.5,0.6,0.7,0.8,0.9,1,1.1,1.2,1.3,1.4,1.5,1.6,1.69,1.7,1.8,1.9,2,2.1,2.2,2.3,2.4,2.5,2.6,2.7,2.8,2.9,3,3.1],"labelExpr":"abs(datum.value*2-round(datum.value*2))<0.001 ? format(datum.value,'~g') : ''","labelFont":"Liberation Sans","labelFontSize":13.5,"labelColor":"#222","labelPadding":15,"labelOverlap":false,"labelFlush":false,"labelBound":false,"tickColor":"black","tickWidth":1,"tickSize":{"condition":[{"test":"abs(datum.value-1.69)<0.001","value":-12},{"test":"abs(datum.value*2-round(datum.value*2))<0.001","value":-7}],"value":-4},"domainColor":"black","domainWidth":1.5,"grid":false}}},
"layer":[
{"data":{"name":"L5"},"mark":{"type":"line","clip":true,"color":"black","strokeWidth":1.3},"encoding":{"detail":{"field":"s","type":"nominal"},"order":{"value":null}}},
{"data":{"name":"T5"},"mark":{"type":"text","font":"Liberation Serif","fontWeight":"bold","fontSize":20,"color":"black"},"encoding":{"text":{"field":"t","type":"nominal"}}}
]},
{"width":370,"height":316,
"title":{"text":"(vi)","anchor":"start","frame":"group","align":"center","dx":-57,"dy":30,"offset":0,"font":"Liberation Serif","fontSize":22,"fontWeight":"normal","color":"black"},
"encoding":{"x":{"field":"x","type":"quantitative","scale":{"domain":[0,3.7]},"axis":null},
"y":{"field":"y","type":"quantitative","scale":{"domain":[0,3.1416],"nice":false,"zero":false},"axis":{"title":"kh","titleFont":"Liberation Serif","titleFontSize":21,"titleFontWeight":"normal","titleColor":"black","titlePadding":13,"values":[0.1,0.2,0.3,0.4,0.5,0.6,0.7,0.8,0.9,1,1.1,1.2,1.3,1.4,1.5,1.6,1.69,1.7,1.8,1.9,2,2.1,2.2,2.3,2.4,2.5,2.6,2.7,2.8,2.9,3,3.1],"labelExpr":"abs(datum.value*2-round(datum.value*2))<0.001 ? format(datum.value,'~g') : ''","labelFont":"Liberation Sans","labelFontSize":13.5,"labelColor":"#222","labelPadding":15,"labelOverlap":false,"labelFlush":false,"labelBound":false,"tickColor":"black","tickWidth":1,"tickSize":{"condition":[{"test":"abs(datum.value-1.69)<0.001","value":-12},{"test":"abs(datum.value*2-round(datum.value*2))<0.001","value":-7}],"value":-4},"domainColor":"black","domainWidth":1.5,"grid":false}}},
"layer":[
{"data":{"name":"L6"},"mark":{"type":"line","clip":true,"color":"black","strokeWidth":1.3},"encoding":{"detail":{"field":"s","type":"nominal"},"order":{"value":null}}},
{"data":{"name":"T6"},"mark":{"type":"text","font":"Liberation Serif","fontWeight":"bold","fontSize":20,"color":"black"},"encoding":{"text":{"field":"t","type":"nominal"}}}
]},
{"width":370,"height":316,
"title":{"text":"(vii)","anchor":"start","frame":"group","align":"center","dx":-57,"dy":30,"offset":0,"font":"Liberation Serif","fontSize":22,"fontWeight":"normal","color":"black"},
"encoding":{"x":{"field":"x","type":"quantitative","scale":{"domain":[0,3.7]},"axis":null},
"y":{"field":"y","type":"quantitative","scale":{"domain":[0,3.1416],"nice":false,"zero":false},"axis":{"title":"kh","titleFont":"Liberation Serif","titleFontSize":21,"titleFontWeight":"normal","titleColor":"black","titlePadding":13,"values":[0.1,0.2,0.3,0.4,0.5,0.6,0.7,0.8,0.9,1,1.1,1.2,1.3,1.4,1.5,1.6,1.69,1.7,1.8,1.9,2,2.1,2.2,2.3,2.4,2.5,2.6,2.7,2.8,2.9,3,3.1],"labelExpr":"abs(datum.value*2-round(datum.value*2))<0.001 ? format(datum.value,'~g') : ''","labelFont":"Liberation Sans","labelFontSize":13.5,"labelColor":"#222","labelPadding":15,"labelOverlap":false,"labelFlush":false,"labelBound":false,"tickColor":"black","tickWidth":1,"tickSize":{"condition":[{"test":"abs(datum.value-1.69)<0.001","value":-12},{"test":"abs(datum.value*2-round(datum.value*2))<0.001","value":-7}],"value":-4},"domainColor":"black","domainWidth":1.5,"grid":false}}},
"layer":[
{"data":{"name":"L7"},"mark":{"type":"line","clip":true,"color":"black","strokeWidth":1.3},"encoding":{"detail":{"field":"s","type":"nominal"},"order":{"value":null}}},
{"data":{"name":"T7"},"mark":{"type":"text","font":"Liberation Serif","fontWeight":"bold","fontSize":20,"color":"black"},"encoding":{"text":{"field":"t","type":"nominal"}}}
]},
{"width":370,"height":316,
"title":{"text":"(viii)","anchor":"start","frame":"group","align":"center","dx":-57,"dy":30,"offset":0,"font":"Liberation Serif","fontSize":22,"fontWeight":"normal","color":"black"},
"encoding":{"x":{"field":"x","type":"quantitative","scale":{"domain":[0,3.7]},"axis":null},
"y":{"field":"y","type":"quantitative","scale":{"domain":[0,3.1416],"nice":false,"zero":false},"axis":{"title":"kh","titleFont":"Liberation Serif","titleFontSize":21,"titleFontWeight":"normal","titleColor":"black","titlePadding":13,"values":[0.1,0.2,0.3,0.4,0.5,0.6,0.7,0.8,0.9,1,1.1,1.2,1.3,1.4,1.5,1.6,1.69,1.7,1.8,1.9,2,2.1,2.2,2.3,2.4,2.5,2.6,2.7,2.8,2.9,3,3.1],"labelExpr":"abs(datum.value*2-round(datum.value*2))<0.001 ? format(datum.value,'~g') : ''","labelFont":"Liberation Sans","labelFontSize":13.5,"labelColor":"#222","labelPadding":15,"labelOverlap":false,"labelFlush":false,"labelBound":false,"tickColor":"black","tickWidth":1,"tickSize":{"condition":[{"test":"abs(datum.value-1.69)<0.001","value":-12},{"test":"abs(datum.value*2-round(datum.value*2))<0.001","value":-7}],"value":-4},"domainColor":"black","domainWidth":1.5,"grid":false}}},
"layer":[
{"data":{"name":"L8"},"mark":{"type":"line","clip":true,"color":"black","strokeWidth":1.3},"encoding":{"detail":{"field":"s","type":"nominal"},"order":{"value":null}}},
{"data":{"name":"T8"},"mark":{"type":"text","font":"Liberation Serif","fontWeight":"bold","fontSize":20,"color":"black"},"encoding":{"text":{"field":"t","type":"nominal"}}}
]}
]}
]
}
